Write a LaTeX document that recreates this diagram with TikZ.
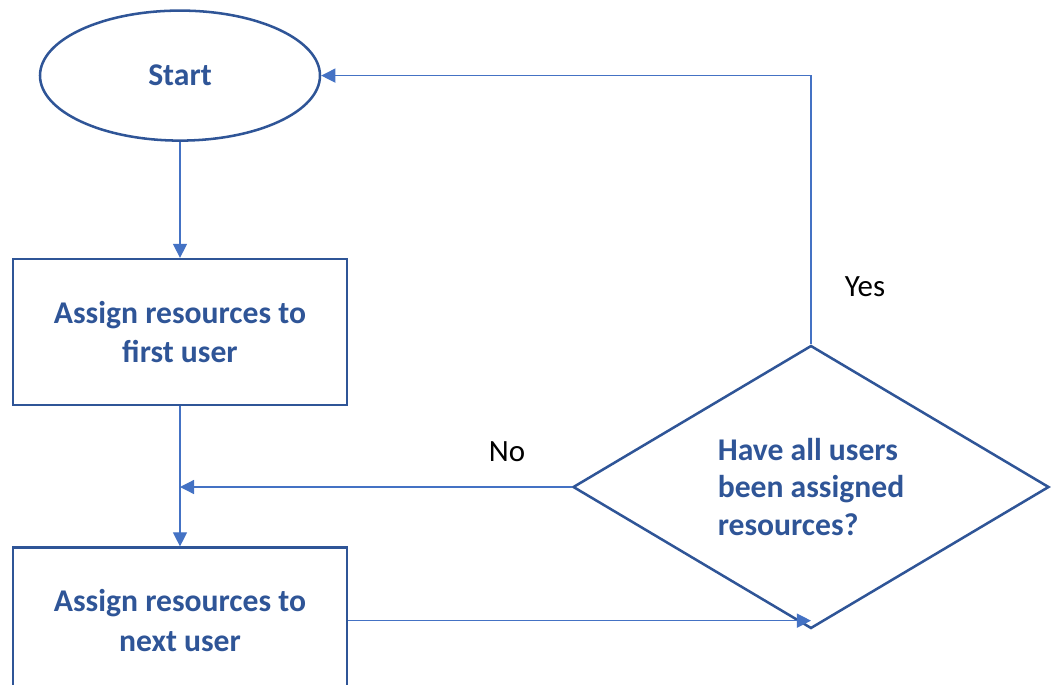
\documentclass[tikz,border=0pt]{standalone}
\usepackage{fontspec}
\setmainfont{Carlito}
\usetikzlibrary{arrows.meta,positioning,shapes.geometric}
\definecolor{shapeblue}{HTML}{2F5597}
\definecolor{linkblue}{HTML}{4472C4}

\begin{document}
\begin{tikzpicture}[
			terminal/.style={ellipse, draw=shapeblue, line width=1.8pt, minimum width=7cm, minimum height=3.25cm, inner sep=0pt, text=shapeblue, font=\fontsize{22.5}{28}\selectfont\bfseries},
			block/.style={rectangle, draw=shapeblue, line width=1.8pt, minimum width=8.35cm, minimum height=3.65cm, text centered, align=center, text=shapeblue, font=\fontsize{22.5}{28}\selectfont\bfseries},
			decision/.style={diamond, draw=shapeblue, line width=1.8pt, aspect=1.68, minimum width=11.9cm, minimum height=7.075cm, inner sep=0pt, align=left, text=shapeblue, font=\fontsize{22.5}{27}\selectfont\bfseries},
			answer/.style={font=\fontsize{22}{26}\selectfont},
			arrow/.style={-{Triangle[length=10pt,width=10pt]}, draw=linkblue, line width=0.9pt},
			node distance=2.9cm
		]
		\useasboundingbox (0,0) rectangle (26.45,-17.125);
		\clip (0,0) rectangle (26.45,-17.125);
		% Nodes
		\node[terminal] (start) at (4.5,-1.89) {Start};
		\node[block, below=of start] (firstuser) {Assign resources to\\first user};
		\node[block, below=3.5cm of firstuser] (nextuser) {Assign resources to\\next user};
		\node[decision] (check) at (20.275,-12.175) {Have all users\\been assigned\\resources?};
		\node[answer] (yes) at (21.625,-7.175) {Yes};
		\node[answer] (no) at (12.675,-11.3) {No};
		% Arrows
		\draw[arrow] (start.south) -- (firstuser.north);
		\draw[arrow] (firstuser.south) -- (nextuser.north);
		\draw[arrow] (check.west) -- (check.west -| firstuser.south);
		\draw[arrow] (nextuser.east) -- (nextuser.east -| check.south);
		\draw[arrow] (check.north) |- (start.east);
	\end{tikzpicture}
\end{document}
